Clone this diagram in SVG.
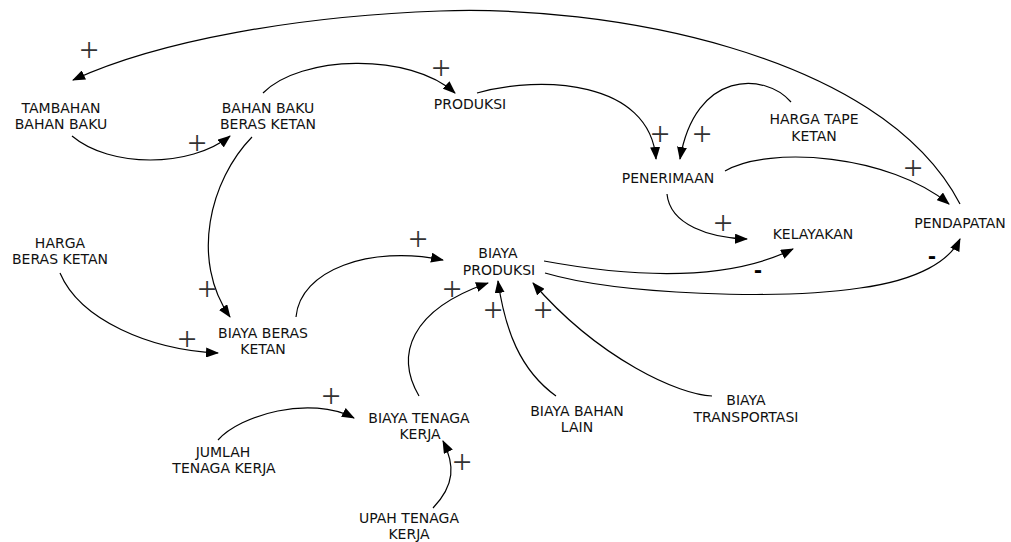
<svg xmlns="http://www.w3.org/2000/svg" width="1011" height="542" viewBox="0 0 1011 542">
<defs>
<marker id="ah" markerWidth="13" markerHeight="10" refX="12" refY="5" orient="auto" markerUnits="userSpaceOnUse">
<path d="M0,0 L13,5 L0,10 Z" fill="#000"/>
</marker>
<style>
.n text{font-family:"DejaVu Sans",Verdana,sans-serif;font-size:14px;fill:#111;text-anchor:middle}
.c path{fill:none;stroke:#000;stroke-width:1.2;marker-end:url(#ah)}
.p{font-family:"Liberation Serif",serif;font-size:34px;fill:#333;text-anchor:middle}
.m{font-family:"Liberation Sans",Arial,sans-serif;font-size:24px;font-weight:bold;fill:#000;text-anchor:middle}
</style>
</defs>
<rect width="1011" height="542" fill="#fff"/>
<g class="c" id="connectors">
<path d="M960,204 C880,50 600,5 440,11 C300,16 160,40 73,80"/>
<path d="M72,136 C110,168 190,168 230,136"/>
<path d="M263,93 C300,55 410,52 455,93"/>
<path d="M252,137 C210,180 190,260 230,317"/>
<path d="M60,273 C80,320 150,350 218,353"/>
<path d="M296,317 C300,270 370,245 443,260"/>
<path d="M477,93 C540,75 650,80 656,159"/>
<path d="M791,102 C765,72 695,70 680,159"/>
<path d="M725,171 C770,145 890,155 949,204"/>
<path d="M667,194 C670,225 710,238 747,239"/>
<path d="M544,261 C620,275 720,285 793,249"/>
<path d="M545,273 C620,295 780,300 860,288 C920,280 950,260 960,239"/>
<path d="M419,396 C395,355 410,310 488,283"/>
<path d="M556,396 C520,370 505,330 498,281"/>
<path d="M712,396 C680,395 600,360 533,283"/>
<path d="M218,440 C240,415 310,395 354,418"/>
<path d="M433,508 C455,485 455,465 443,441"/>
</g>
<g id="polarity">
<text class="p" x="89" y="61">+</text>
<text class="p" x="197" y="154">+</text>
<text class="p" x="441" y="79">+</text>
<text class="p" x="660" y="145">+</text>
<text class="p" x="702" y="145">+</text>
<text class="p" x="913" y="179">+</text>
<text class="p" x="723" y="234">+</text>
<text class="p" x="207" y="300">+</text>
<text class="p" x="187" y="350">+</text>
<text class="p" x="418" y="250">+</text>
<text class="p" x="452" y="300">+</text>
<text class="p" x="493" y="321">+</text>
<text class="p" x="543" y="321">+</text>
<text class="p" x="331" y="407">+</text>
<text class="p" x="462" y="473">+</text>
<text class="m" x="758" y="278">-</text>
<text class="m" x="932" y="264">-</text>
</g>
<g class="n" id="tambahan"><text x="61" y="113">TAMBAHAN</text><text x="61" y="129">BAHAN BAKU</text></g>
<g class="n" id="bahanbaku"><text x="268" y="113">BAHAN BAKU</text><text x="268" y="129">BERAS KETAN</text></g>
<g class="n" id="produksi"><text x="470" y="109">PRODUKSI</text></g>
<g class="n" id="penerimaan"><text x="668" y="183">PENERIMAAN</text></g>
<g class="n" id="hargatape"><text x="814" y="124">HARGA TAPE</text><text x="814" y="141">KETAN</text></g>
<g class="n" id="kelayakan"><text x="813" y="239">KELAYAKAN</text></g>
<g class="n" id="pendapatan"><text x="960" y="228">PENDAPATAN</text></g>
<g class="n" id="hargaberas"><text x="60" y="248">HARGA</text><text x="60" y="264">BERAS KETAN</text></g>
<g class="n" id="biayaberas"><text x="263" y="338">BIAYA BERAS</text><text x="263" y="354">KETAN</text></g>
<g class="n" id="biayaproduksi"><text x="498" y="258">BIAYA</text><text x="499" y="275">PRODUKSI</text></g>
<g class="n" id="biayatenaga"><text x="419" y="423">BIAYA TENAGA</text><text x="420" y="439">KERJA</text></g>
<g class="n" id="jumlahtenaga"><text x="223" y="457">JUMLAH</text><text x="224" y="473">TENAGA KERJA</text></g>
<g class="n" id="upahtenaga"><text x="409" y="523">UPAH TENAGA</text><text x="409" y="539">KERJA</text></g>
<g class="n" id="biayabahan"><text x="577" y="416">BIAYA BAHAN</text><text x="577" y="432">LAIN</text></g>
<g class="n" id="biayatransport"><text x="746" y="405">BIAYA</text><text x="746" y="422">TRANSPORTASI</text></g>
</svg>
